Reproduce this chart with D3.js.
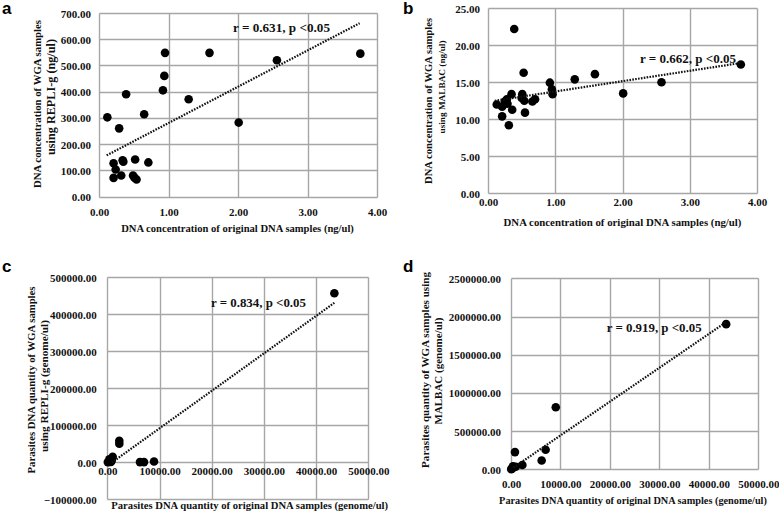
<!DOCTYPE html>
<html><head><meta charset="utf-8">
<script src="https://cdn.jsdelivr.net/npm/d3@7"></script>
<style>body{margin:0;background:#fff}svg{display:block}</style>
</head><body>
<svg id="chart" width="779" height="515"></svg>
<script>
// ---------- DATA ----------
// Panel a: original DNA conc (ng/ul) vs REPLI-g WGA conc (ng/ul)
const aX = [0.12, 0.65, 0.29, 0.21, 0.34, 0.35, 0.52, 0.71, 0.24, 0.21, 0.32, 0.49, 0.51, 0.54, 0.39, 0.92, 0.94, 0.95, 1.29, 1.59, 2.01, 2.56, 3.76];
const aY = [302, 314, 260, 127, 138, 133, 141, 130, 103, 71, 80, 80, 72, 65, 390, 405, 460, 548, 371, 548, 282, 520, 545];
const aTrendX = [0.11, 3.75];
const aTrendY = [157, 661];
const aNote = "r = 0.631, p <0.05";

// Panel b: original DNA conc vs MALBAC WGA conc
const bX = [0.53, 1.29, 0.92, 0.95, 0.96, 0.35, 0.51, 0.50, 0.54, 0.28, 0.25, 0.29, 0.13, 0.21, 0.66, 0.70, 0.36, 0.55, 0.21, 0.31, 0.39, 2.01, 2.58, 3.76, 1.59];
const bY = [16.3, 15.4, 14.95, 14.05, 13.4, 13.4, 13.4, 12.9, 12.5, 12.7, 12.4, 12.1, 12.0, 11.7, 12.4, 12.7, 11.3, 10.9, 10.4, 9.2, 22.2, 13.5, 15.0, 17.4, 16.1];
const bTrendX = [0.10, 3.75];
const bTrendY = [12.5, 17.6];
const bNote = "r = 0.662, p <0.05";

// Panel c: parasite DNA quantity original vs REPLI-g (genome/ul)
const cX = [43500, 2300, 2300, 1030, 850, 550, 300, 100, 6260, 7030, 8950, 700, 400];
const cY = [457000, 58000, 50000, 15000, 5000, 2000, 1000, 500, 500, 500, 2000, 1000, 8000];
const cTrendX = [840, 43500];
const cTrendY = [-1000, 431000];
const cNote = "r = 0.834, p <0.05";

// Panel d: parasite DNA quantity original vs MALBAC (genome/ul)
const dX = [43500, 9050, 7000, 800, 6200, 2300, 950, 500, 300, 150, 50, 400];
const dY = [1900000, 812000, 255000, 225000, 115000, 56000, 34000, 28000, 15000, 8000, 2000, 40000];
const dTrendX = [470, 43620];
const dTrendY = [21000, 1932000];
const dNote = "r = 0.919, p <0.05";

// Ticks
const concTicks = [0, 1, 2, 3, 4];
const qtyTicks = [0, 10000, 20000, 30000, 40000, 50000];
const aYTicks = [0, 100, 200, 300, 400, 500, 600, 700];
const bYTicks = [0, 5, 10, 15, 20, 25];
const cYTicks = [-100000, 0, 100000, 200000, 300000, 400000, 500000];
const dYTicks = [0, 500000, 1000000, 1500000, 2000000, 2500000];

// Titles
const aXTitle = "DNA concentration of original DNA samples (ng/ul)";
const aYTitle = ["DNA concentration of WGA samples", "using REPLI-g  (ng/ul)"];
const bXTitle = "DNA concentration of  original DNA samples (ng/ul)";
const bYTitle = ["DNA  concentration of WGA  samples", "using MALBAC  (ng/ul)"];
const cXTitle = "Parasites DNA quantity of original DNA samples (genome/ul)";
const cYTitle = ["Parasites DNA  quantity of WGA  samples", "using REPLI-g  (genome/ul)"];
const dXTitle = "Parasites DNA quantity of original DNA samples (genome/ul)";
const dYTitle = ["Parasites quantity of WGA samples using", "MALBAC (genome/ul)"];
const letters = ["a", "b", "c", "d"];

// ---------- LAYOUT ----------
const panels = [
  {letter: letters[0], lx: 2, ly: 14, xs: aX, ys: aY, tx: aTrendX, ty: aTrendY, note: aNote,
   xd: [0, 4], yd: [0, 700], xt: concTicks, yt: aYTicks,
   L: 99, R: 377, T: 13, B: 196.5, yLabR: 91, xLabY: 211.5, xAxisAt: 0,
   xTitle: aXTitle, xTitlePos: [237.5, 228.5, 233],
   yTitle: aYTitle, yTitlePos: [[37, 104, 168], [51, 97, 116]],
   notePos: [233, 27, 97]},
  {letter: letters[1], lx: 403, ly: 14, xs: bX, ys: bY, tx: bTrendX, ty: bTrendY, note: bNote,
   xd: [0, 4], yd: [0, 25], xt: concTicks, yt: bYTicks,
   L: 488, R: 757, T: 8.3, B: 193.3, yLabR: 480, xLabY: 202, xAxisAt: 0,
   xTitle: bXTitle, xTitlePos: [622.5, 222, 238],
   yTitle: bYTitle, yTitlePos: [[428, 101, 166], [442, 87, 93]],
   notePos: [640, 58, 96]},
  {letter: letters[2], lx: 2, ly: 272, xs: cX, ys: cY, tx: cTrendX, ty: cTrendY, note: cNote,
   xd: [0, 50000], yd: [-100000, 500000], xt: qtyTicks, yt: cYTicks,
   L: 107.3, R: 368.3, T: 277.3, B: 499.3, yLabR: 96.7, xLabY: null, xLabOff: 8.7, xAxisAt: 0,
   xTitle: cXTitle, xTitlePos: [249.7, 505.5, 277],
   yTitle: cYTitle, yTitlePos: [[31, 380, 187], [44, 386, 132]],
   notePos: [211, 303, 95]},
  {letter: letters[3], lx: 403, ly: 272, xs: dX, ys: dY, tx: dTrendX, ty: dTrendY, note: dNote,
   xd: [0, 50000], yd: [0, 2500000], xt: qtyTicks, yt: dYTicks,
   L: 511, R: 758.3, T: 278.3, B: 469.3, yLabR: 501, xLabY: 484.3, xAxisAt: 0,
   xTitle: dXTitle, xTitlePos: [633, 500, 268],
   yTitle: dYTitle, yTitlePos: [[425, 370, 196], [438, 371, 107]],
   notePos: [606.7, 328.3, 95]}
];

const svg = d3.select("#chart");
const serif = "'Liberation Serif','Times New Roman',serif";
const fmt = d3.format(".2f");
const gridColor = "#a6a6a6";

function fitText(sel, target, maxSize) {
  sel.attr("font-size", maxSize);
  const nat = sel.node().getComputedTextLength();
  const fs = nat > target ? maxSize * target / nat : maxSize;
  sel.attr("font-size", fs.toFixed(2));
}

panels.forEach(p => {
  const x = d3.scaleLinear().domain(p.xd).range([p.L, p.R]);
  const y = d3.scaleLinear().domain(p.yd).range([p.B, p.T]);
  const g = svg.append("g");

  // gridlines
  const gx0 = Math.round(x(p.xd[0])) + 0.5, gx1 = Math.round(x(p.xd[1])) + 0.5;
  const gy0 = Math.round(y(p.yd[0])) + 0.5, gy1 = Math.round(y(p.yd[1])) + 0.5;
  const grid = g.append("g").attr("class", "grid");
  grid.selectAll("line.h").data(p.yt).join("line").attr("class", "h")
    .attr("x1", gx0).attr("x2", gx1)
    .attr("y1", d => Math.round(y(d)) + 0.5).attr("y2", d => Math.round(y(d)) + 0.5)
    .style("stroke", gridColor).style("stroke-width", "1.4px");
  grid.selectAll("line.v").data(p.xt).join("line").attr("class", "v")
    .attr("y1", gy0).attr("y2", gy1)
    .attr("x1", d => Math.round(x(d)) + 0.5).attr("x2", d => Math.round(x(d)) + 0.5)
    .style("stroke", gridColor).style("stroke-width", "1.4px");

  // y tick labels
  const yAx = g.append("g").attr("transform", `translate(${p.L},0)`)
    .call(d3.axisLeft(y).tickValues(p.yt).tickSize(0).tickPadding(p.L - p.yLabR).tickFormat(fmt))
    .call(s => s.select(".domain").remove())
    .call(s => s.selectAll("line").remove());
  yAx.selectAll("text").attr("font-family", serif).attr("font-weight", "bold")
    .attr("font-size", 11).attr("fill", "#111").attr("dy", null).attr("dominant-baseline", "central");

  // x tick labels
  const xLabY = p.xLabY != null ? p.xLabY : y(p.xAxisAt) + p.xLabOff;
  const xAx = g.append("g").attr("transform", `translate(0,${xLabY})`)
    .call(d3.axisBottom(x).tickValues(p.xt).tickSize(0).tickPadding(0).tickFormat(fmt))
    .call(s => s.select(".domain").remove())
    .call(s => s.selectAll("line").remove());
  xAx.selectAll("text").attr("font-family", serif).attr("font-weight", "bold")
    .attr("font-size", 11).attr("fill", "#111").attr("y", 0).attr("dy", null)
    .attr("dominant-baseline", "central");

  // points
  const pts = p.xs.map((v, i) => [v, p.ys[i]]);
  g.append("g").selectAll("circle").data(pts).join("circle")
    .attr("cx", d => x(d[0])).attr("cy", d => y(d[1])).attr("r", 4.3).attr("fill", "#000");

  // trend line
  const tr = p.tx.map((v, i) => [v, p.ty[i]]);
  g.append("path").datum(tr)
    .attr("d", d3.line().x(d => x(d[0])).y(d => y(d[1])))
    .attr("fill", "none").attr("stroke", "#111").attr("stroke-width", 2.2)
    .attr("stroke-dasharray", "1.6,1.3");

  // annotation
  const note = g.append("text").text(p.note)
    .attr("x", p.notePos[0]).attr("y", p.notePos[1]).attr("dominant-baseline", "central")
    .attr("font-family", serif).attr("font-weight", "bold").attr("fill", "#111");
  fitText(note, p.notePos[2], 14.5);

  // x title
  const xt = g.append("text").text(p.xTitle)
    .attr("x", p.xTitlePos[0]).attr("y", p.xTitlePos[1]).attr("text-anchor", "middle")
    .attr("dominant-baseline", "central")
    .attr("font-family", serif).attr("font-weight", "bold").attr("fill", "#111");
  fitText(xt, p.xTitlePos[2], 13);

  // y title (two lines, rotated)
  p.yTitle.forEach((t, i) => {
    const [cx, cy, len] = p.yTitlePos[i];
    const yt = g.append("text").text(t)
      .attr("transform", `translate(${cx},${cy}) rotate(-90)`)
      .attr("text-anchor", "middle").attr("dominant-baseline", "central")
      .attr("font-family", serif).attr("font-weight", "bold").attr("fill", "#111");
    fitText(yt, len, 13);
  });

  // panel letter
  g.append("text").text(p.letter)
    .attr("x", p.lx).attr("y", p.ly)
    .attr("font-family", "'Liberation Sans',Arial,sans-serif").attr("font-weight", "bold")
    .attr("font-size", 17).attr("fill", "#000");
});
</script>
</body></html>
